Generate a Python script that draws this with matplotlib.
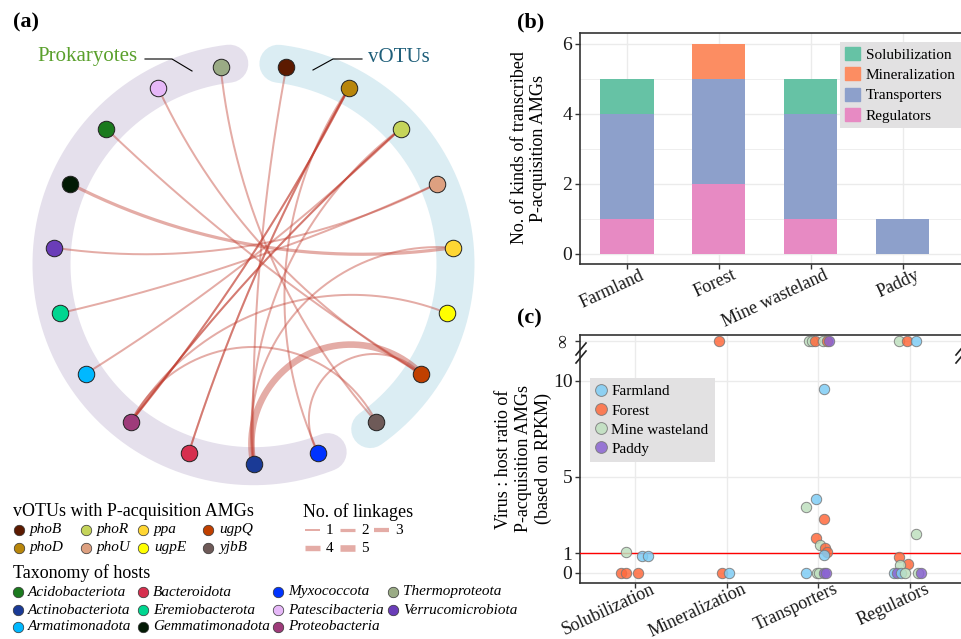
import numpy as np
import matplotlib
matplotlib.use("Agg")
import matplotlib.pyplot as plt
from matplotlib.lines import Line2D
from matplotlib.patches import Patch
from matplotlib.transforms import ScaledTranslation

plt.rcParams['font.family'] = ['Liberation Serif', 'DejaVu Serif']

# ------------------------------------------------------------------ data
# (a) network
taxa = ['Acidobacteriota', 'Actinobacteriota', 'Armatimonadota', 'Bacteroidota',
        'Eremiobacterota', 'Gemmatimonadota', 'Myxococcota', 'Patescibacteria',
        'Proteobacteria', 'Thermoproteota', 'Verrucomicrobiota']
taxa_colors = ['#1b7a1e', '#1a3a96', '#00b8ff', '#d6304f', '#00d690', '#021a04',
               '#0033ff', '#e6b8f8', '#9e3b7a', '#9aab85', '#6a3db8']
votus = ['phoB', 'phoD', 'phoR', 'phoU', 'ppa', 'ugpE', 'ugpQ', 'yjbB']
votu_colors = ['#5c1a00', '#b8860b', '#c5d45a', '#dda080', '#ffd633', '#ffff00',
               '#c04000', '#6e5a58']
circle_order = ['Actinobacteriota', 'Myxococcota', 'yjbB', 'ugpQ', 'ugpE', 'ppa',
                'phoU', 'phoR', 'phoD', 'phoB', 'Thermoproteota', 'Patescibacteria',
                'Acidobacteriota', 'Gemmatimonadota', 'Verrucomicrobiota',
                'Eremiobacterota', 'Armatimonadota', 'Proteobacteria', 'Bacteroidota']
link_host = ['Thermoproteota', 'Patescibacteria', 'Acidobacteriota', 'Gemmatimonadota',
             'Verrucomicrobiota', 'Eremiobacterota', 'Armatimonadota', 'Proteobacteria',
             'Proteobacteria', 'Proteobacteria', 'Proteobacteria', 'Bacteroidota',
             'Actinobacteriota', 'Actinobacteriota', 'Actinobacteriota', 'Actinobacteriota',
             'Myxococcota', 'Myxococcota']
link_votu = ['yjbB', 'ugpQ', 'ugpQ', 'ppa', 'phoU', 'phoU', 'phoR', 'phoR', 'phoD', 'yjbB',
             'ugpE', 'phoD', 'ugpQ', 'phoB', 'ppa', 'phoR', 'phoD', 'ugpQ']
link_n = [1, 1, 1, 2, 1, 1, 1, 1, 1, 1, 1, 1, 5, 1, 1, 1, 1, 1]
link_pairs = [1, 1, 1, 1, 1, 1, 1, 2, 2, 1, 1, 2, 1, 1, 1, 1, 1, 1]
linkage_levels = [1, 2, 3, 4, 5]

# (b) stacked bars
envs = ['Farmland', 'Forest', 'Mine wasteland', 'Paddy']
b_regulators = [1, 2, 1, 0]
b_transporters = [3, 3, 3, 1]
b_mineralization = [0, 1, 0, 0]
b_solubilization = [1, 0, 1, 0]

# (c) virus:host ratio points  (np.inf = no host expression)
c_categories = ['Solubilization', 'Mineralization', 'Transporters', 'Regulators']
sol_env = ['Forest', 'Forest', 'Forest', 'Mine wasteland', 'Farmland', 'Farmland']
sol_val = [0, 0, 0, 1.06, 0.89, 0.89]
sol_jit = [-0.15, -0.10, 0.03, -0.10, 0.08, 0.14]
min_env = ['Forest', 'Forest', 'Farmland']
min_val = [np.inf, 0, 0]
min_jit = [-0.08, -0.05, 0.03]
tra_env = ['Mine wasteland', 'Mine wasteland', 'Forest', 'Mine wasteland', 'Forest', 'Paddy',
           'Farmland', 'Farmland', 'Mine wasteland', 'Forest', 'Forest', 'Mine wasteland',
           'Forest', 'Forest', 'Farmland', 'Farmland', 'Mine wasteland', 'Mine wasteland',
           'Paddy', 'Paddy']
tra_val = [np.inf, np.inf, np.inf, np.inf, np.inf, np.inf,
           9.58, 3.84, 3.43, 2.82, 1.83, 1.45, 1.27, 1.10, 0.91, 0, 0, 0, 0, 0]
tra_jit = [-0.10, -0.065, -0.035, 0.055, 0.09, 0.12,
           0.06, -0.03, -0.13, 0.06, -0.03, 0.015, 0.07, 0.095, 0.06,
           -0.13, -0.02, 0.005, 0.06, 0.085]
reg_env = ['Mine wasteland', 'Forest', 'Farmland', 'Mine wasteland', 'Forest', 'Forest',
           'Mine wasteland', 'Farmland', 'Paddy', 'Farmland', 'Mine wasteland',
           'Mine wasteland', 'Paddy']
reg_val = [np.inf, np.inf, np.inf, 2.0, 0.83, 0.45, 0.40, 0, 0, 0, 0, 0, 0]
reg_jit = [-0.12, -0.035, 0.065, 0.06, -0.12, -0.02, -0.11,
           -0.17, -0.14, -0.10, -0.05, 0.09, 0.115]
env_colors = {'Farmland': '#7fcdf5', 'Forest': '#ff6a3d',
              'Mine wasteland': '#bfe0bf', 'Paddy': '#8a63d2'}

# ------------------------------------------------------------------ figure
W, H = 961, 639
fig = plt.figure(figsize=(W / 100, H / 100), dpi=100)


def fx(px):
    return px / W


def fy(py):
    return 1 - py / H


# ================================================================== (a)
axa = fig.add_axes([0, 0, 1, 1])
axa.set_xlim(0, W)
axa.set_ylim(H, 0)
axa.axis('off')

CX, CY, R = 253.5, 264.2, 200.0
NN = len(circle_order)


def node_angle(name):
    return np.deg2rad(-90 + circle_order.index(name) * 360.0 / NN)


def arc_xy(a1, a2, bow=1.25, n=150):
    p1 = R * np.array([np.cos(a1), np.sin(a1)])
    p2 = R * np.array([np.cos(a2), np.sin(a2)])
    d = abs((a1 - a2 + np.pi) % (2 * np.pi) - np.pi)
    h = d / 2
    m = (p1 + p2) / 2
    c = np.linalg.norm(p2 - p1) / 2
    sg = R * np.cos(h) - R * (1 - np.sin(h)) / np.cos(h) if np.cos(h) > 1e-6 else 0.0
    s = bow * sg
    if s < 0.5 or np.linalg.norm(m) < 1e-6:
        t = np.linspace(0, 1, n)[:, None]
        pts = p1 + t * (p2 - p1)
    else:
        u = -m / np.linalg.norm(m)
        rho = (c * c + s * s) / (2 * s)
        O = m + (s - rho) * u
        b1 = np.arctan2(p1[1] - O[1], p1[0] - O[0])
        b2 = np.arctan2(p2[1] - O[1], p2[0] - O[0])
        ba = np.arctan2(u[1], u[0])
        da = (b2 - b1) % (2 * np.pi)
        if (ba - b1) % (2 * np.pi) < da:
            ang = b1 + np.linspace(0, da, n)
        else:
            ang = b1 - np.linspace(0, 2 * np.pi - da, n)
        pts = O + rho * np.column_stack([np.cos(ang), np.sin(ang)])
    return CX + pts[:, 0], CY - pts[:, 1]


def band(a_start, a_end, color):
    ang = np.linspace(np.deg2rad(a_start), np.deg2rad(a_end), 200)
    rb = R + 2
    axa.plot(CX + rb * np.cos(ang), CY - rb * np.sin(ang), color=color,
             lw=38 * 0.72, solid_capstyle='round', zorder=1)


step = 360.0 / NN
ang_thermo = -90 + circle_order.index('Thermoproteota') * step
ang_myxo = -90 + circle_order.index('Myxococcota') * step + 360
ang_yjbb = -90 + circle_order.index('yjbB') * step
ang_phob = -90 + circle_order.index('phoB') * step
band(ang_thermo - 2.6, ang_myxo + 2.6, '#e5e0ec')
band(ang_yjbb - 2.6, ang_phob + 2.4, '#dbedf3')

LINK_COLOR = '#c0392b'
width_px = {1: 2.0, 2: 3.2, 3: 4.2, 4: 5.4, 5: 6.6}
for hst, vt, n, k in zip(link_host, link_votu, link_n, link_pairs):
    xs, ys = arc_xy(node_angle(hst), node_angle(vt))
    for _ in range(k):
        axa.plot(xs, ys, color=LINK_COLOR, alpha=0.42, lw=width_px[n] * 0.72,
                 solid_capstyle='butt', zorder=2)

all_names = taxa + votus
all_cols = taxa_colors + votu_colors
for name in circle_order:
    a = node_angle(name)
    col = all_cols[all_names.index(name)]
    axa.scatter(CX + R * np.cos(a), CY - R * np.sin(a), s=(16.5 * 0.72) ** 2,
                color=col, edgecolors='#222222', linewidths=0.7, zorder=5)

# group labels
axa.text(37, 57, 'Prokaryotes', color='#5aa02c', fontsize=15, va='center', ha='left')
axa.plot([145, 172, 192], [59, 59, 71], color='black', lw=0.8)
axa.text(368, 57, 'vOTUs', color='#1f5f7a', fontsize=15, va='center', ha='left')
axa.plot([362, 333, 313], [59, 59, 70], color='black', lw=0.8)

# legends of (a)
axa.text(13, 512, 'vOTUs with P-acquisition AMGs', fontsize=13, va='center')
vx = [19, 86, 143, 208]
vy = [530, 548]
for i, (name, col) in enumerate(zip(votus, votu_colors)):
    x0, y0 = vx[i // 2], vy[i % 2]
    axa.scatter(x0, y0, s=(10.5 * 0.72) ** 2, color=col, edgecolors='#333333',
                linewidths=0.5, zorder=5)
    axa.text(x0 + 11, y0, name, fontsize=11, style='italic', va='center')

axa.text(303, 512, 'No. of linkages', fontsize=13, va='center')
lx = [305, 340, 374]
ly = [530, 548]
for i, n in enumerate(linkage_levels):
    x0, y0 = lx[i % 3], ly[i // 3]
    axa.plot([x0, x0 + 15], [y0, y0], color=LINK_COLOR, alpha=0.42,
             lw=width_px[n] * 0.72, solid_capstyle='butt')
    axa.text(x0 + 21, y0, str(n), fontsize=11, va='center')

axa.text(13, 573, 'Taxonomy of hosts', fontsize=13, va='center')
tx = [18, 143, 278, 393]
ty = [592, 610, 627]
for i, (name, col) in enumerate(zip(taxa, taxa_colors)):
    x0, y0 = tx[i // 3], ty[i % 3]
    axa.scatter(x0, y0, s=(10.5 * 0.72) ** 2, color=col, edgecolors='#333333',
                linewidths=0.5, zorder=5)
    axa.text(x0 + 10, y0, name, fontsize=11, style='italic', va='center')

# ================================================================== common style
SPINE = '#333333'


def style_axes(ax):
    for sp in ax.spines.values():
        sp.set_color(SPINE)
        sp.set_linewidth(1.2)
    ax.tick_params(which='major', direction='out', length=3.5, width=1.0,
                   color=SPINE, labelsize=13, labelcolor='#1a1a1a', pad=2)
    ax.tick_params(which='minor', length=0)
    ax.set_axisbelow(True)


def shift_xlabels(ax, dx_px, dy_px):
    for lab in ax.get_xticklabels():
        lab.set_transform(lab.get_transform() +
                          ScaledTranslation(dx_px / 100, dy_px / 100, fig.dpi_scale_trans))


# ================================================================== (b)
axb = fig.add_axes([fx(580), fy(264), 385 / W, 231 / H])
xb = np.arange(1, len(envs) + 1)
bottom = np.zeros(len(envs))
for lab, vals, col in [('Regulators', b_regulators, '#e78ac3'),
                       ('Transporters', b_transporters, '#8da0cb'),
                       ('Mineralization', b_mineralization, '#fc8d62'),
                       ('Solubilization', b_solubilization, '#66c2a5')]:
    axb.bar(xb, vals, bottom=bottom, width=0.58, color=col, label=lab,
            linewidth=0, zorder=3)
    bottom += np.array(vals)
axb.set_xlim(0.488, 4.68)
axb.set_ylim(-0.3, 6.3)
axb.set_yticks([0, 2, 4, 6])
axb.set_yticks([1, 3, 5], minor=True)
axb.set_xticks(xb)
axb.set_xticklabels(envs, rotation=25, ha='right', va='top', rotation_mode='anchor')
axb.grid(which='major', color='#ebebeb', lw=1.0)
axb.grid(which='minor', axis='y', color='#ebebeb', lw=0.6)
style_axes(axb)
axb.tick_params(axis='y', labelsize=14)
shift_xlabels(axb, 13, 5)
hb, lb = axb.get_legend_handles_labels()
order = [3, 2, 1, 0]
leg = axb.legend([Patch(color=hb[i].patches[0].get_facecolor()) for i in order],
                 [lb[i] for i in order], loc='upper left', bbox_to_anchor=(0.675, 0.962),
                 frameon=True, fancybox=False, fontsize=11, handlelength=0.95,
                 handleheight=0.95, labelspacing=0.35, borderpad=0.35,
                 handletextpad=0.4, borderaxespad=0)
leg.get_frame().set_facecolor('#e2e1e2')
leg.get_frame().set_edgecolor('none')
leg.get_frame().set_alpha(1)
fig.text(fx(529), fy(148), 'No. of kinds of transcribed\nP-acquisition AMGs',
         rotation=90, ha='center', va='center', fontsize=13, linespacing=1.2,
         multialignment='center')

# ================================================================== (c)
INF_POS = 12.1
axc = fig.add_axes([fx(580), fy(583), 385 / W, 248 / H])
axc.set_xlim(0.4, 4.6)
axc.set_ylim(-0.54, 12.4)
groups = [(sol_env, sol_val, sol_jit), (min_env, min_val, min_jit),
          (tra_env, tra_val, tra_jit), (reg_env, reg_val, reg_jit)]
for ci, (e_list, v_list, j_list) in enumerate(groups):
    for e, v, j in zip(e_list, v_list, j_list):
        yv = INF_POS if np.isinf(v) else v
        axc.scatter(ci + 1 + j, yv, s=56, color=env_colors[e], alpha=0.85,
                    edgecolors='#777777', linewidths=0.7, zorder=4)
axc.axhline(1, color='#ff0000', lw=1.0, zorder=3)
axc.set_xticks(np.arange(1, 5))
axc.set_xticklabels(c_categories, rotation=25, ha='right', va='top',
                    rotation_mode='anchor')
axc.set_yticks([0, 1, 5, 10, INF_POS])
axc.set_yticklabels(['0', '1', '5', '10', '\u221e'])
axc.get_yticklabels()[-1].set_rotation(90)
axc.get_yticklabels()[-1].set_va('center')
axc.grid(which='major', color='#ebebeb', lw=1.0)
style_axes(axc)
axc.tick_params(axis='y', labelsize=14)
shift_xlabels(axc, 15, 10)
handles = [Line2D([], [], ls='none', marker='o', markersize=8.5, markerfacecolor=env_colors[e],
                  markeredgecolor='#777777', markeredgewidth=0.7, alpha=0.85) for e in envs]
legc = axc.legend(handles, envs, loc='upper left', bbox_to_anchor=(0.026, 0.827),
                  frameon=True, fancybox=False, fontsize=11, handlelength=0.6,
                  labelspacing=0.35, borderpad=0.45, handletextpad=0.35, borderaxespad=0)
legc.get_frame().set_facecolor('#e2e1e2')
legc.get_frame().set_edgecolor('none')
legc.get_frame().set_alpha(1)
fig.text(fx(523.5), fy(459), 'Virus : host ratio of\nP-acquisition AMGs\n(based on RPKM)',
         rotation=90, ha='center', va='center', fontsize=13, linespacing=1.2,
         multialignment='center')

# axis-break marks
for x0 in (576, 956):
    for dy in (0, 8):
        fig.add_artist(Line2D([fx(x0), fx(x0 + 10)], [fy(355 + dy), fy(343 + dy)],
                              color='#222222', lw=1.2))

# panel tags
fig.text(fx(13), fy(22), '(a)', fontsize=16, fontweight='bold', va='center')
fig.text(fx(517), fy(22), '(b)', fontsize=16, fontweight='bold', va='center')
fig.text(fx(517), fy(318), '(c)', fontsize=16, fontweight='bold', va='center')

fig.savefig('out.png', dpi=100)
